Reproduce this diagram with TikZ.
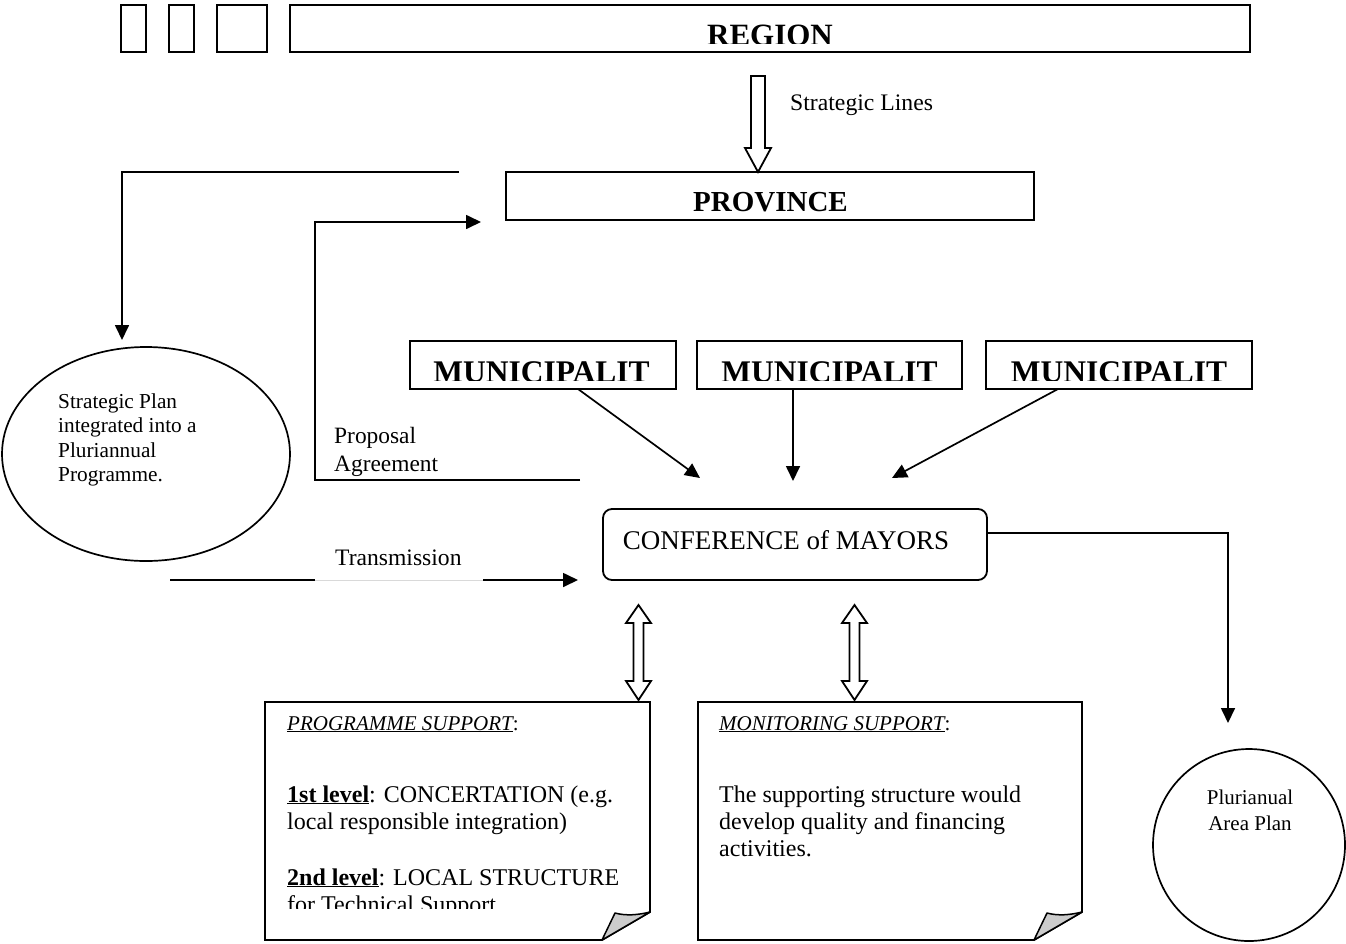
\documentclass[tikz,border=0pt]{standalone}
\usepackage{fontspec}
\setmainfont{Liberation Serif}
\usetikzlibrary{arrows.meta,shapes.geometric}
\begin{document}
\begin{tikzpicture}[x=1pt,y=-1pt,
  tbox/.style={draw, line width=2.4pt, inner sep=0pt},
  conn/.style={line width=1.7pt, -{Triangle[length=15pt,width=14pt]}},
  plain/.style={line width=1.7pt},
  hollow/.style={draw, line width=1.8pt, fill=white, line join=miter},
  txt/.style={font=\fontsize{#1}{#1}\selectfont, inner sep=0pt},
  btxt/.style={font=\fontsize{#1}{#1}\selectfont\bfseries, inner sep=0pt},
  note/.style={draw, line width=1.8pt, fill=white, line join=miter},
  curl/.style={draw, line width=1.5pt, fill=gray!40, line join=round},
]
\useasboundingbox (0,0) rectangle (1346,943);

% top boxes
\node[tbox, minimum width=25pt, minimum height=47pt] (b1) at (133.5,28.5) {};
\node[tbox, minimum width=25pt, minimum height=47pt] (b2) at (181.5,28.5) {};
\node[tbox, minimum width=50pt, minimum height=47pt] (b3) at (242,28.5) {};
\node[tbox, minimum width=960pt, minimum height=47pt] (region) at (770,28.5) {};
\begin{scope}
  \clip (292,7) rectangle (1248,43);
  \node[btxt=31, anchor=base] (regiontxt) at (770,45) {REGION};
\end{scope}

% hollow arrow region -> province
\draw[hollow] (751,76) -- (765,76) -- (765,148) -- (771,148) -- (758,172) -- (745,148) -- (751,148) -- cycle;
\node[txt=23.7, anchor=base west] (sl) at (790,110) {Strategic Lines};

% province
\node[tbox, line width=2pt, minimum width=528pt, minimum height=48pt] (prov) at (770,196) {};
\node[btxt=29, anchor=base] (provtxt) at (770.5,211) {PROVINCE};

% line from province area to ellipse
\coordinate (pl) at (459,172);
\coordinate (ptip) at (122,340);
\draw[conn] (pl) -| (ptip);

% ellipse
\node[draw, ellipse, line width=1.7pt, minimum width=288pt, minimum height=214pt, inner sep=0pt] (ell) at (146,454) {};
\node[txt=21.3, anchor=base west] (e1) at (58,408) {Strategic Plan};
\node[txt=21.3, anchor=base west] (e2) at (58,432.5) {integrated into a};
\node[txt=21.3, anchor=base west] (e3) at (58,457) {Pluriannual};
\node[txt=21.3, anchor=base west] (e4) at (58,481.5) {Programme.};

% proposal line
\coordinate (pa1) at (580,480);
\coordinate (pa2) at (315,480);
\coordinate (patip) at (481,222);
\draw[conn] (pa1) -- (pa2) |- (patip);
\node[txt=23.4, anchor=base west] (prop) at (334,443) {Proposal};
\node[txt=23.4, anchor=base west] (agr) at (334,471) {Agreement};

% municipalities
\node[tbox, line width=2pt, minimum width=266pt, minimum height=48pt] (m1) at (543,365) {};
\node[tbox, line width=2pt, minimum width=265pt, minimum height=48pt] (m2) at (829.5,365) {};
\node[tbox, line width=2pt, minimum width=266pt, minimum height=48pt] (m3) at (1119,365) {};
\begin{scope}
  \clip (300,343) rectangle (1300,380);
  \node[btxt=31.5, anchor=base] (m1t) at (541.5,382) {MUNICIPALIT};
  \node[btxt=31.5, anchor=base] (m2t) at (829.5,382) {MUNICIPALIT};
  \node[btxt=31.5, anchor=base] (m3t) at (1119,382) {MUNICIPALIT};
\end{scope}
\coordinate (m1s) at (578,389);
\coordinate (m2s) at (793,389);
\coordinate (m3s) at (1058,389);
\coordinate (m1e) at (700,478);
\coordinate (m2e) at (793,481);
\coordinate (m3e) at (892,478);
\draw[conn] (m1s) -- (m1e);
\draw[conn] (m2s) -- (m2e);
\draw[conn] (m3s) -- (m3e);

% conference
\node[draw, line width=1.8pt, rounded corners=9pt, minimum width=384pt, minimum height=71pt, inner sep=0pt] (conf) at (795,544.5) {};
\node[txt=27, anchor=base] (conftxt) at (786,549) {CONFERENCE of MAYORS};

% transmission
\coordinate (tr1) at (170,580);
\coordinate (tr2) at (315,580);
\coordinate (tr3) at (483,580);
\coordinate (trtip) at (578,580);
\draw[plain] (tr1) -- (tr2);
\draw[gray!30, line width=0.8pt] (tr2) -- (tr3);
\draw[conn] (tr3) -- (trtip);
\node[txt=23.6, anchor=base west] (trans) at (335,565) {Transmission};

% conference -> plurianual area plan
\coordinate (cr) at (987,533);
\coordinate (crtip) at (1228,723);
\draw[conn] (cr) -| (crtip);
\node[draw, circle, line width=1.7pt, minimum size=192pt, inner sep=0pt] (pap) at (1249,845) {};
\node[txt=21, anchor=base] (pap1) at (1250,804) {Plurianual};
\node[txt=21, anchor=base] (pap2) at (1250,830) {Area Plan};

% double hollow arrows
\draw[hollow] (638.5,605) -- (651,623) -- (643.5,623) -- (643.5,681) -- (651,681) -- (638.5,700) -- (626,681) -- (633.5,681) -- (633.5,623) -- (626,623) -- cycle;
\draw[hollow] (854.5,605) -- (867,623) -- (859.5,623) -- (859.5,681) -- (867,681) -- (854.5,700) -- (842,681) -- (849.5,681) -- (849.5,623) -- (842,623) -- cycle;

% left note
\draw[note] (265,702) -- (650,702) -- (650,912) -- (602,940) -- (265,940) -- cycle;
\draw[curl] (602,940) -- (615,913) .. controls (626,916) and (638,915) .. (650,912) -- cycle;
\node[txt=21, anchor=base west] (ps) at (287,730) {\underline{\itshape PROGRAMME SUPPORT}:};
\begin{scope}
  \clip (266,703) rectangle (649,908);
  \node[txt=24, anchor=base west] (l1) at (287,802) {\textbf{\underline{1st level}}: CONCERTATION (e.g.};
  \node[txt=24, anchor=base west] (l2) at (287,829) {local responsible integration)};
  \node[txt=24, anchor=base west] (l3) at (287,885) {\textbf{\underline{2nd level}}: LOCAL STRUCTURE};
  \node[txt=24, anchor=base west] (l4) at (287,912) {for Technical Support};
\end{scope}

% right note
\draw[note] (698,702) -- (1082,702) -- (1082,912) -- (1034,940) -- (698,940) -- cycle;
\draw[curl] (1034,940) -- (1047,913) .. controls (1058,916) and (1070,915) .. (1082,912) -- cycle;
\node[txt=21, anchor=base west] (ms) at (719,730) {\underline{\itshape MONITORING SUPPORT}:};
\node[txt=24, anchor=base west] (r1) at (719,802) {The supporting structure would};
\node[txt=24, anchor=base west] (r2) at (719,829) {develop quality and financing};
\node[txt=24, anchor=base west] (r3) at (719,856) {activities.};
\end{tikzpicture}
\end{document}
